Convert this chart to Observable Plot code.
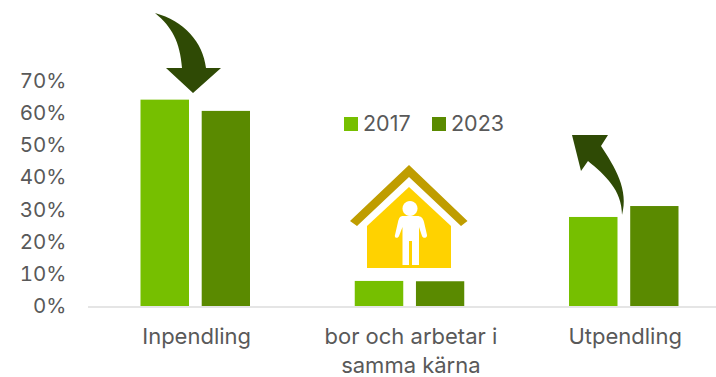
<!DOCTYPE html>
<html><head><meta charset="utf-8">
<style>html,body{margin:0;padding:0;background:#fff}svg{display:block}</style>
<script src="https://cdn.jsdelivr.net/npm/d3@7"></script>
<script src="https://cdn.jsdelivr.net/npm/@observablehq/plot@0.6"></script>
</head><body><script>
const categories = ["Inpendling", "bor och arbetar i\nsamma kärna", "Utpendling"];
const values2017 = [0.642, 0.078, 0.277];
const values2023 = [0.607, 0.077, 0.311];
const yearLabels = ["2017", "2023"];
const colors = ["#76bf00", "#5a8a00"];
const arrowColor = "#2f4a05";
const font = "Inter, sans-serif";
const textColor = "#595959";
const rows = (vals) => categories.map((c, i) => ({c, v: vals[i]}));

const path = (d, fill) => {
  const p = document.createElementNS("http://www.w3.org/2000/svg", "path");
  p.setAttribute("d", d); p.setAttribute("fill", fill); return p;
};
const decorations = () => {
  const g = d3.create("svg:g");
  const add = (d, f) => g.node().appendChild(path(d, f));
  // curved arrows
  add("M155,13 C184,21 203,42 206,68 L221,68 L193,93 L166,68 L182,68 C180,42 172,27 155,13 Z", arrowColor);
  add("M622,215 C629,190 615,167 601,146 L608,135 L572,135 L581,171 L588,161 C605,175 622,190 622,215 Z", arrowColor);
  // house
  add("M409,165 L467.5,221 L461,226 L409,177 L357,226 L350,221 Z", "#bf9d00");
  add("M409,187 L451,226 L451,268 L367,268 L367,226 Z", "#ffd200");
  // person
  add("M410,201 a7.5,7.5 0 1 1 -0.01,0 Z", "#fff");
  add("M403,216 L417,216 C421,216 423,218 424,222 L427,235 C427.5,238 423,239 422,236 L419,227 L419,265 L412,265 L412,241 L409,241 L409,265 L402.5,265 L402.5,227 L399,236 C398,239 394,238 395,235 L398,222 C399,218 400,216 403,216 Z", "#fff");
  // legend
  [344, 432].forEach((x, i) => {
    g.append("rect").attr("x", x).attr("y", 117).attr("width", 14).attr("height", 14).attr("fill", colors[i]);
    g.append("text").attr("x", x + 19).attr("y", 131).attr("fill", textColor).attr("text-anchor", "start")
      .attr("font-family", font).attr("font-size", 21.5).text(yearLabels[i]);
  });
  return g.node();
};

const chart = Plot.plot({
  width: 716, height: 377,
  marginTop: 0, marginBottom: 71, marginLeft: 88, marginRight: 0,
  style: {fontFamily: font, fontSize: "21px", color: textColor, background: "#fff"},
  x: {domain: categories, type: "band", range: [89, 731.75], padding: 0, round: false, label: null},
  y: {domain: [0, 0.7], range: [306, 81], label: null},
  marks: [
    Plot.ruleY([0], {stroke: "#dcdcdc", strokeWidth: 1.5, dy: 0.5}),
    Plot.barY(rows(values2017), {x: "c", y: "v", fill: colors[0], insetLeft: 51.5, insetRight: 114.25}),
    Plot.barY(rows(values2023), {x: "c", y: "v", fill: colors[1], insetLeft: 112.7, insetRight: 53.25}),
    Plot.axisY({ticks: d3.range(0, 0.71, 0.1), tickFormat: d3.format(".0%"), tickSize: 0, tickPadding: 0, anchor: "left", label: null, fontSize: 20.5, fill: textColor, dx: -22, textAnchor: "end"}),
    Plot.axisX({tickSize: 0, tickPadding: 17, anchor: "bottom", label: null, fontSize: 22, fill: textColor, lineHeight: 1.32}),
    decorations
  ]
});
document.body.appendChild(chart);
</script></body></html>
